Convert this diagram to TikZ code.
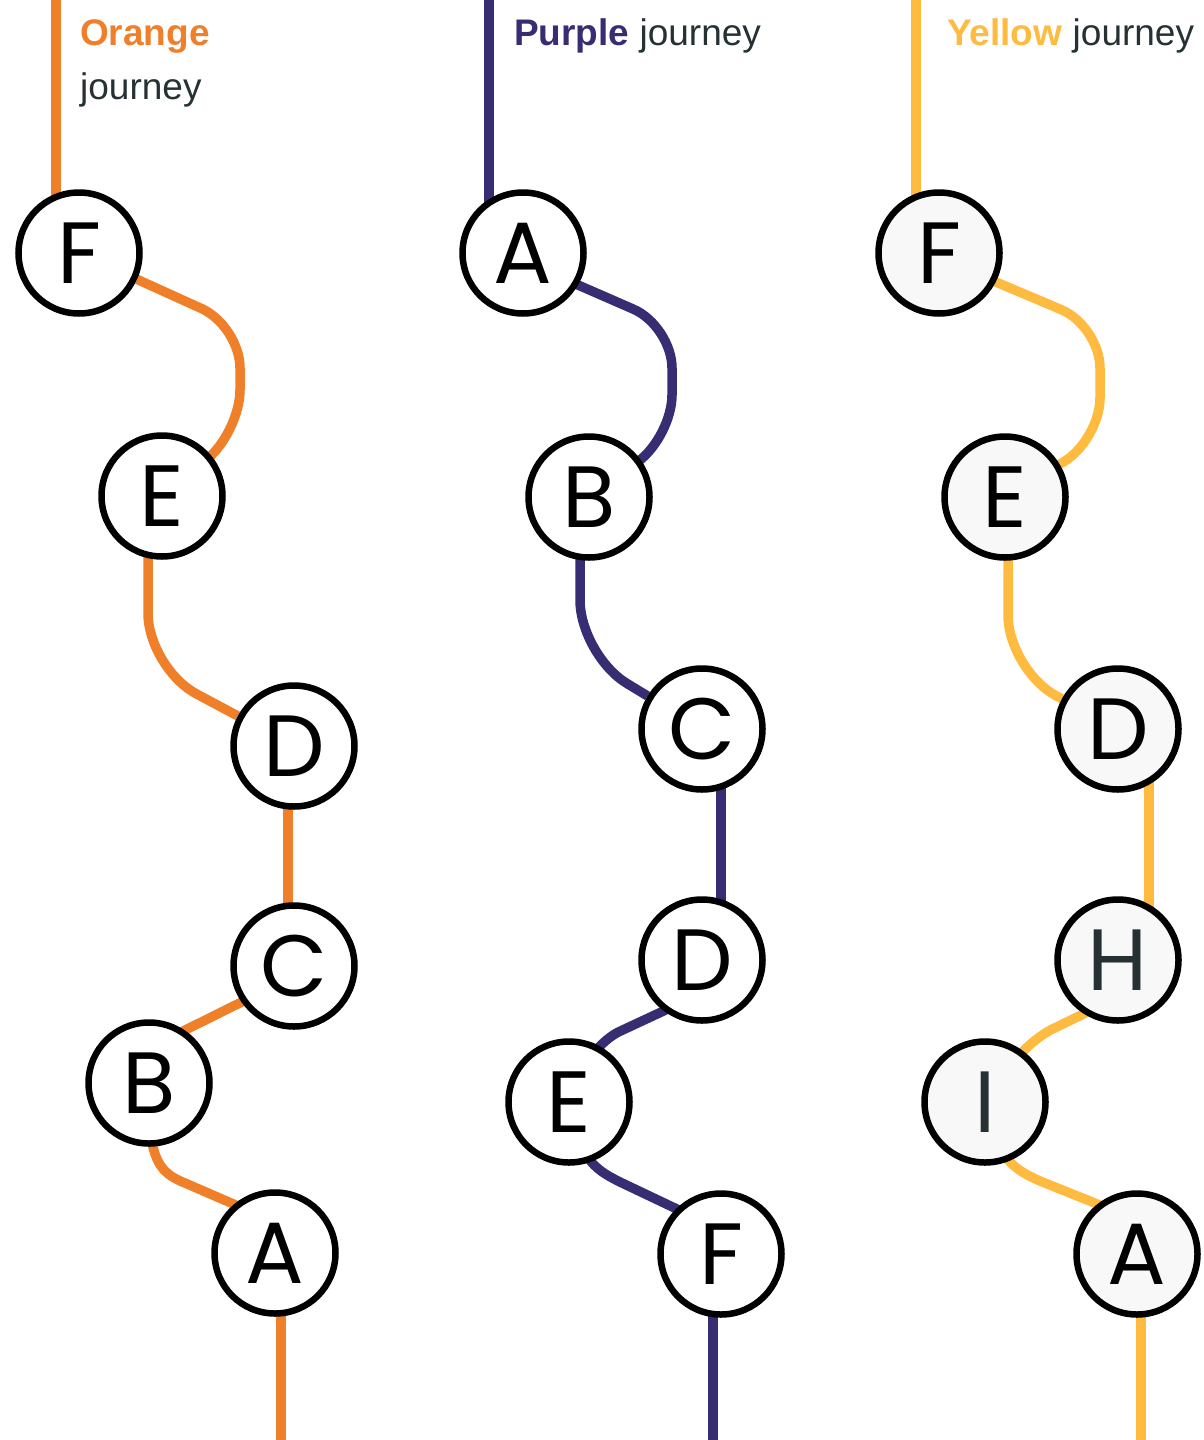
\documentclass[tikz,border=0pt]{standalone}
\usepackage{fontspec}
\setmainfont{Liberation Sans}
\newfontfamily\letterfont{Poppins}
\usetikzlibrary{calc}
\definecolor{cOrange}{HTML}{F07F2A}
\definecolor{cPurple}{HTML}{372D73}
\definecolor{cYellow}{HTML}{FFBA40}
\definecolor{cDark}{HTML}{263134}
\definecolor{cLight}{HTML}{F8F8F8}
\pgfdeclarelayer{bg}
\pgfsetlayers{bg,main}
\begin{document}
\begin{tikzpicture}[x=1pt,y=-1pt,
  stn/.style={circle,draw=black,line width=6.5pt,minimum size=121pt,inner sep=0pt,fill=white,
    font=\letterfont\fontsize{87}{87}\selectfont},
  ystn/.style={stn,fill=cLight},
  route/.style={line width=9.5pt,rounded corners=42pt},
  curveroute/.style={line width=9.5pt,sharp corners},
  ttl/.style={anchor=base west,inner sep=0pt,font=\fontsize{37}{44}\selectfont,text=cDark}]
\useasboundingbox (0,0) rectangle (1203,1440);

% titles
\node[ttl] (oT) at (80,45) {\textcolor{cOrange}{\textbf{Orange}}};
\node[ttl] (oT2) at (80,99) {journey};
\node[ttl] (pT) at (514,45) {\textcolor{cPurple}{\textbf{Purple}} journey};
\node[ttl] (yT) at (947,45) {\textcolor{cYellow}{\textbf{Yellow}} journey};

% orange stations
\node[stn] (oF) at (79,253) {F};
\node[stn] (oE) at (162,496) {E};
\node[stn] (oD) at (294,746) {D};
\node[stn] (oC) at (294,966) {C};
\node[stn] (oB) at (149,1083) {B};
\node[stn] (oA) at (275,1253) {A};
% purple stations
\node[stn] (pA) at (523,253) {A};
\node[stn] (pB) at (589,497) {B};
\node[stn] (pC) at (702,729) {C};
\node[stn] (pD) at (702,960) {D};
\node[stn] (pE) at (569,1102) {E};
\node[stn] (pF) at (721,1254) {F};
% yellow stations
\node[ystn] (yF) at (939,253) {F};
\node[ystn] (yE) at (1005,497) {E};
\node[ystn] (yD) at (1118,729) {D};
\node[ystn,text=cDark] (yH) at (1118,960) {H};
\node[ystn,text=cDark] (yI) at (985,1102) {I};
\node[ystn] (yA) at (1137,1254) {A};

\coordinate (oTop) at (56,0);
\coordinate (oBot) at (281,1440);
\coordinate (pTop) at (489,0);
\coordinate (pBot) at (713,1440);
\coordinate (yTop) at (916,0);
\coordinate (yBot) at (1141,1440);

\begin{pgfonlayer}{bg}
% orange
\begin{scope}[draw=cOrange]
\draw[route] (oTop) -- (oTop |- oF);
\draw[route] (oF) -- (240,326) -- (240,432) -- (oE);
\draw[route,rounded corners=55pt] ($(oE)+(-14,0)$) -- (148,668) -- (oD);
\draw[route] ($(oD)+(-6,0)$) -- ($(oC)+(-6,0)$);
\draw[route] ($(oC)+(0,10)$) -- ($(oB)+(0,-35)$);
\draw[curveroute] ($(oB)+(1,40)$) .. controls (152,1165) and (165,1175) .. (185,1183) -- ($(oA)+(0,-31)$);
\draw[route] ($(oA)+(6,0)$) -- (oBot);
\end{scope}
% purple
\begin{scope}[draw=cPurple]
\draw[route] (pTop) -- (pTop |- pA);
\draw[route] ($(pA)+(0,8)$) -- (672,326) -- (672,437) -- (pB);
\draw[route,rounded corners=55pt] ($(pB)+(-9,0)$) -- (580,655) -- (pC);
\draw[route] ($(pC)+(19,0)$) -- ($(pD)+(19,0)$);
\draw[route,rounded corners=25pt] ($(pD)+(0,33)$) -- (597,1042) -- (pE);
\draw[curveroute] ($(pE)+(10,40)$) .. controls (590,1165) and (600,1172) .. (620,1182) -- ($(pF)+(0,-24)$);
\draw[route] ($(pF)+(-8,0)$) -- (pBot);
\end{scope}
% yellow
\begin{scope}[draw=cYellow]
\draw[route] (yTop) -- (yTop |- yF);
\draw[route] ($(yF)+(0,5)$) -- (1100,326) -- (1100,440) -- (yE);
\draw[route,rounded corners=55pt] ($(yE)+(3,0)$) -- (1008,670) -- (yD);
\draw[route] ($(yD)+(31,0)$) -- ($(yH)+(31,0)$);
\draw[route,rounded corners=25pt] ($(yH)+(0,37)$) -- (1030,1040) -- (yI);
\draw[curveroute] ($(yI)+(12,40)$) .. controls (1008,1165) and (1020,1172) .. (1040,1181) -- ($(yA)+(0,-34)$);
\draw[route] ($(yA)+(4,0)$) -- (yBot);
\end{scope}
\end{pgfonlayer}
\end{tikzpicture}
\end{document}
